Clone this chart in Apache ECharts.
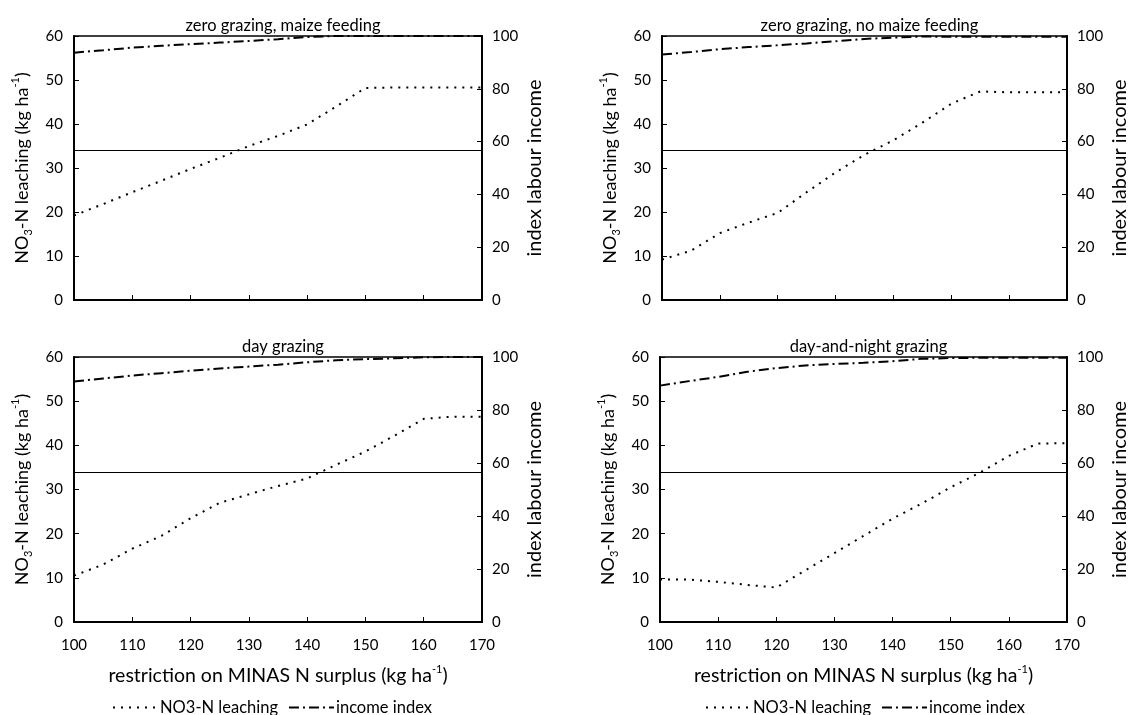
<!DOCTYPE html>
<html>
<head>
<meta charset="utf-8">
<script src="https://cdn.jsdelivr.net/npm/echarts@6/dist/echarts.min.js"></script>
<style>
html,body{margin:0;padding:0;background:#fff;}
#chart{width:1133px;height:715px;}
</style>
</head>
<body>
<div id="chart"></div>
<script>
// ---- data ----
const surplus = [100,105,110,115,120,125,130,135,140,145,150,155,160,165,170];
const panelTitles = ['zero grazing, maize feeding','zero grazing, no maize feeding','day grazing','day-and-night grazing'];
const leachZeroMaize   = [19.2,21.8,24.5,27.1,29.8,32.3,35.0,37.3,39.9,44.0,48.2,48.3,48.3,48.3,48.3];
const incomeZeroMaize  = [93.7,94.6,95.6,96.3,96.9,97.5,98.1,98.8,99.6,100,100,100,100,100,100];
const leachZeroNoMaize = [9.2,11.2,15.2,17.6,19.8,24.5,29.0,33.0,36.3,40.3,44.6,47.4,47.2,47.2,47.2];
const incomeZeroNoMaize= [93.0,93.9,95.0,95.8,96.5,97.2,98.0,98.9,99.4,99.8,99.7,99.7,99.7,99.7,99.7];
const leachDay   = [10.5,13.0,16.6,19.5,23.5,27.0,28.9,30.8,32.5,35.6,38.6,42.2,46.0,46.5,46.5];
const incomeDay  = [90.8,91.9,93.0,93.9,94.8,95.7,96.4,97.1,98.0,98.8,99.2,99.5,99.9,100,100];
const leachDayNight  = [9.6,9.6,9.1,8.4,7.8,11.7,15.6,19.5,23.4,26.8,30.5,33.8,37.6,40.4,40.5];
const incomeDayNight = [89.2,90.9,92.5,94.4,95.8,96.8,97.4,97.8,98.4,99.3,99.6,99.7,99.7,99.7,99.7];
const threshold = [34];
const seriesNames = ['NO3-N leaching','income index'];
const leftAxisName = 'NO{sub|3}-N leaching (kg ha{sup|-1})';
const rightAxisName = 'index labour income';
const xAxisName = 'restriction on MINAS N surplus (kg ha{sup|-1})';

const leachSets = [leachZeroMaize, leachZeroNoMaize, leachDay, leachDayNight];
const incomeSets = [incomeZeroMaize, incomeZeroNoMaize, incomeDay, incomeDayNight];

// ---- layout ----
const FONT = 'Lato';
const grids = [
  {left:74, top:36, width:408, height:264},
  {left:662, top:36, width:405, height:264},
  {left:74, top:357, width:408, height:265},
  {left:660, top:357, width:407, height:265}
];
function richFor(){
  return {
    sub:{fontSize:11, fontFamily:FONT, color:'#000', verticalAlign:'bottom', lineHeight:24},
    sup:{fontSize:11, fontFamily:FONT, color:'#000', verticalAlign:'top', lineHeight:24}
  };
}
const yNameStyle = {fontSize:18, fontFamily:FONT, color:'#000', lineHeight:24, rich:richFor()};
const y2NameStyle = {fontSize:20, fontFamily:FONT, color:'#000', lineHeight:24};
const xNameStyle = {fontSize:19.5, fontFamily:FONT, color:'#000', lineHeight:24, rich:richFor()};
const axisLineStyle = {show:true, lineStyle:{color:'#000', width:2}};
const tickStyle = {show:true, inside:true, length:5, lineStyle:{color:'#000', width:1}};
const legendBase = {top:694, itemWidth:45, itemHeight:10, itemGap:10,
  itemStyle:{opacity:0},
  data:seriesNames, textStyle:{fontSize:16.5, fontFamily:FONT, color:'#000', padding:[0,0,0,-3]}};

const option = {
  backgroundColor:'#fff',
  animation:false,
  textStyle:{fontFamily:FONT, color:'#000'},
  title: panelTitles.map((t,i)=>({
    text:t,
    left: grids[i].left + grids[i].width/2,
    textAlign:'center',
    top: grids[i].top - 24,
    textStyle:{fontSize:16.5, fontWeight:'normal', fontFamily:FONT, color:'#000'}
  })),
  grid: grids.map(g=>Object.assign({show:true, borderColor:'#000', borderWidth:1.5, containLabel:false}, g)),
  legend: [
    Object.assign({left:107}, legendBase),
    Object.assign({left:700}, legendBase)
  ],
  xAxis: grids.map((g,i)=>({
    type:'value', gridIndex:i, min:100, max:170, interval:10,
    axisLine:axisLineStyle, axisTick:tickStyle, splitLine:{show:false},
    axisLabel:{show:i>=2, fontSize:15, fontFamily:FONT, color:'#000', margin:16},
    name: i>=2 ? xAxisName : '', nameLocation:'middle', nameGap:42, nameTextStyle:xNameStyle
  })),
  yAxis: [],
  series: []
};

grids.forEach((g,i)=>{
  option.yAxis.push({
    type:'value', gridIndex:i, min:0, max:60, interval:10, position:'left',
    axisLine:axisLineStyle, axisTick:tickStyle, splitLine:{show:false},
    axisLabel:{fontSize:15, fontFamily:FONT, color:'#000', margin:11},
    name:leftAxisName, nameLocation:'middle', nameRotate:90, nameGap:40, nameTextStyle:yNameStyle
  });
  option.yAxis.push({
    type:'value', gridIndex:i, min:0, max:100, interval:20, position:'right',
    axisLine:axisLineStyle, axisTick:tickStyle, splitLine:{show:false},
    axisLabel:{fontSize:15, fontFamily:FONT, color:'#000', margin:10},
    name:rightAxisName, nameLocation:'middle', nameRotate:90, nameGap:41, nameTextStyle:y2NameStyle
  });
  option.series.push({
    name:seriesNames[0], type:'line', xAxisIndex:i, yAxisIndex:2*i,
    data: surplus.map((x,k)=>[x, leachSets[i][k]]),
    symbol:'none', color:'#000',
    lineStyle:{color:'#000', width:2, type:[2,6]},
    markLine:{silent:true, symbol:'none', label:{show:false},
      lineStyle:{color:'#000', type:'solid', width:1},
      data: threshold.map(v=>({yAxis:v}))}
  });
  option.series.push({
    name:seriesNames[1], type:'line', xAxisIndex:i, yAxisIndex:2*i+1,
    data: surplus.map((x,k)=>[x, incomeSets[i][k]]),
    symbol:'none', color:'#000',
    lineStyle:{color:'#000', width:2, type:[10,4,2,4]}
  });
});

const chart = echarts.init(document.getElementById('chart'), null, {renderer:'canvas'});
chart.setOption(option);
</script>
</body>
</html>
